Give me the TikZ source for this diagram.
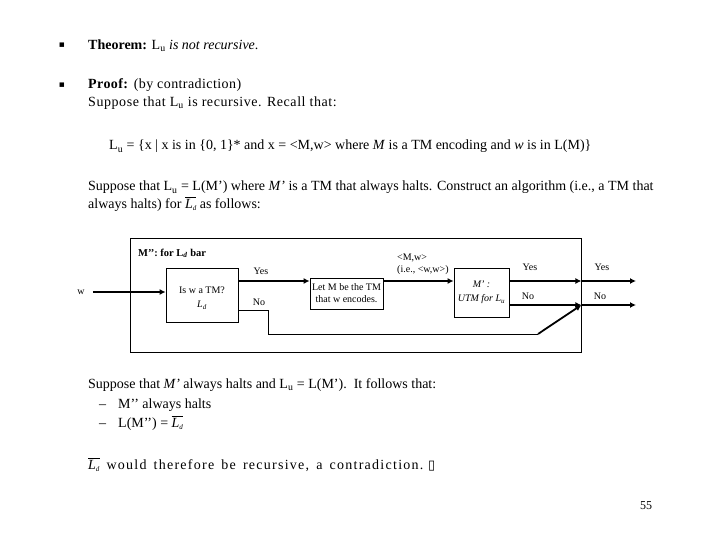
\documentclass[tikz,border=0pt]{standalone}
\usepackage{fontspec}
\setmainfont{Liberation Serif}
\newfontfamily\symfont{DejaVu Sans}
\newfontfamily\widefont[LetterSpace=9,WordSpace=1.5]{Liberation Serif}
\usetikzlibrary{arrows.meta}
\newcommand{\Ldbar}{$\overline{\mbox{\textit{L}\raisebox{-0.35ex}{\scriptsize\textit{d}}}}$}
\newcommand{\spaced}[2]{{\addfontfeature{LetterSpace=#1}#2}}
\tikzset{
  body/.style={anchor=base west, inner sep=0pt, font=\fontsize{14}{16}\selectfont},
  small/.style={inner sep=0pt, font=\fontsize{10}{12}\selectfont},
  box/.style={draw, line width=0.8pt, align=center, inner sep=1pt, font=\fontsize{10}{12}\selectfont},
  thickarrow/.style={line width=1.8pt, -{Latex[length=6pt,width=6pt]}},
  thinline/.style={line width=0.8pt},
}
\begin{document}
\begin{tikzpicture}[x=1pt,y=-1pt]
\useasboundingbox (0,0) rectangle (720,540);
% top text
\node[inner sep=0pt, font=\symfont\fontsize{9}{9}\selectfont] (b1) at (62,45) {▪};
\node[body] (t1) at (88,49.5) {\textbf{Theorem:} L\textsubscript{u} \textit{is not recursive}.};
\node[inner sep=0pt, font=\symfont\fontsize{9}{9}\selectfont] (b2) at (62,85) {▪};
\node[body] (t2) at (88,89) {\spaced{3}{\textbf{Proof:} (by contradiction)}};
\node[body] (t3) at (88,106.5) {\spaced{4}{Suppose that L\textsubscript{u} is recursive. Recall that:}};
\node[body] (t4) at (109,150) {L\textsubscript{u} = \{x | x is in \{0, 1\}* and x = <M,w> where \textit{M} is a TM encoding and \textit{w} is in L(M)\}};
\node[body] (t5) at (88,191) {Suppose that L\textsubscript{u} = L(M’) where \textit{M’} is a TM that always halts. Construct an algorithm (i.e., a TM that};
\node[body] (t6) at (88,208) {always halts) for \Ldbar{} as follows:};
% diagram
\node[draw, thinline, minimum width=451pt, minimum height=114pt, inner sep=0pt] (frame) at (355.5,295) {};
\node[small, anchor=base west, font=\bfseries\fontsize{10.5}{12}\selectfont] (title) at (138,256) {M’’: for L\textsubscript{\textit{d}} bar};
\node[small] (w) at (81,292) {w};
\node[box, minimum width=72pt, minimum height=54pt] (box1) at (202,295) {};
\node[small, align=center] (box1txt) at (202,298) {Is w a TM?\\[2pt] \textit{L\textsubscript{d}}};
\node[box, minimum width=73pt, minimum height=31pt] (box2) at (346.5,293.5) {Let M be the TM\\ that w encodes.};
\node[box, minimum width=55pt, minimum height=49pt] (box3) at (481.5,292.5) {\textit{M’ :}\\[2pt] \textit{UTM for L\textsubscript{u}}};
\coordinate (yesrow) at (0,281);
\coordinate (norow1) at (0,310);
\coordinate (norow2) at (0,305);
\coordinate (bend1) at (268,334);
\coordinate (bend2) at (538,334);
\coordinate (outend) at (636,0);
\draw[thickarrow] (w.east) ++(8,0) -- (box1.west |- w.east);
\draw[thickarrow] (box1.east |- yesrow) -- (box2.west |- yesrow);
\draw[thickarrow] (box2.east |- yesrow) -- (box3.west |- yesrow);
\draw[thickarrow] (box3.east |- yesrow) -- (frame.east |- yesrow);
\draw[thickarrow] (frame.east |- yesrow) -- (outend |- yesrow);
\draw[thickarrow] (box3.east |- norow2) -- (frame.east |- norow2);
\draw[thickarrow] (frame.east |- norow2) -- (outend |- norow2);
\draw[thinline] (box1.east |- norow1) -- (bend1 |- norow1) -- (bend1) -- (bend2);
\draw[thickarrow] (bend2) -- (frame.east |- norow2);
\node[small] (yes1) at (261,271) {Yes};
\node[small] (no1) at (259,302) {No};
\node[small, anchor=west] (mw) at (397,258) {<M,w>};
\node[small, anchor=west] (ie) at (397,270) {(i.e., <w,w>)};
\node[small] (yes2) at (530,267) {Yes};
\node[small] (no2) at (528,296) {No};
\node[small] (yes3) at (602,267) {Yes};
\node[small] (no3) at (600,296) {No};
% bottom text
\node[body] (t7) at (88,388) {Suppose that \textit{M’} always halts and L\textsubscript{u} = L(M’).\ \ It follows that:};
\node[body] (d1) at (99,408) {–};
\node[body] (t8) at (118,408) {M’’ always halts};
\node[body] (d2) at (99,427) {–};
\node[body] (t9) at (118,427) {L(M’’) = \Ldbar};
\node[body] (t10) at (88,469) {\Ldbar{}\ \ {\widefont would therefore be recursive, a contradiction.} {\symfont\fontsize{13}{13}\selectfont ▯}};
\node[body, font=\fontsize{12}{14}\selectfont] (pg) at (640,509) {55};
\end{tikzpicture}
\end{document}
